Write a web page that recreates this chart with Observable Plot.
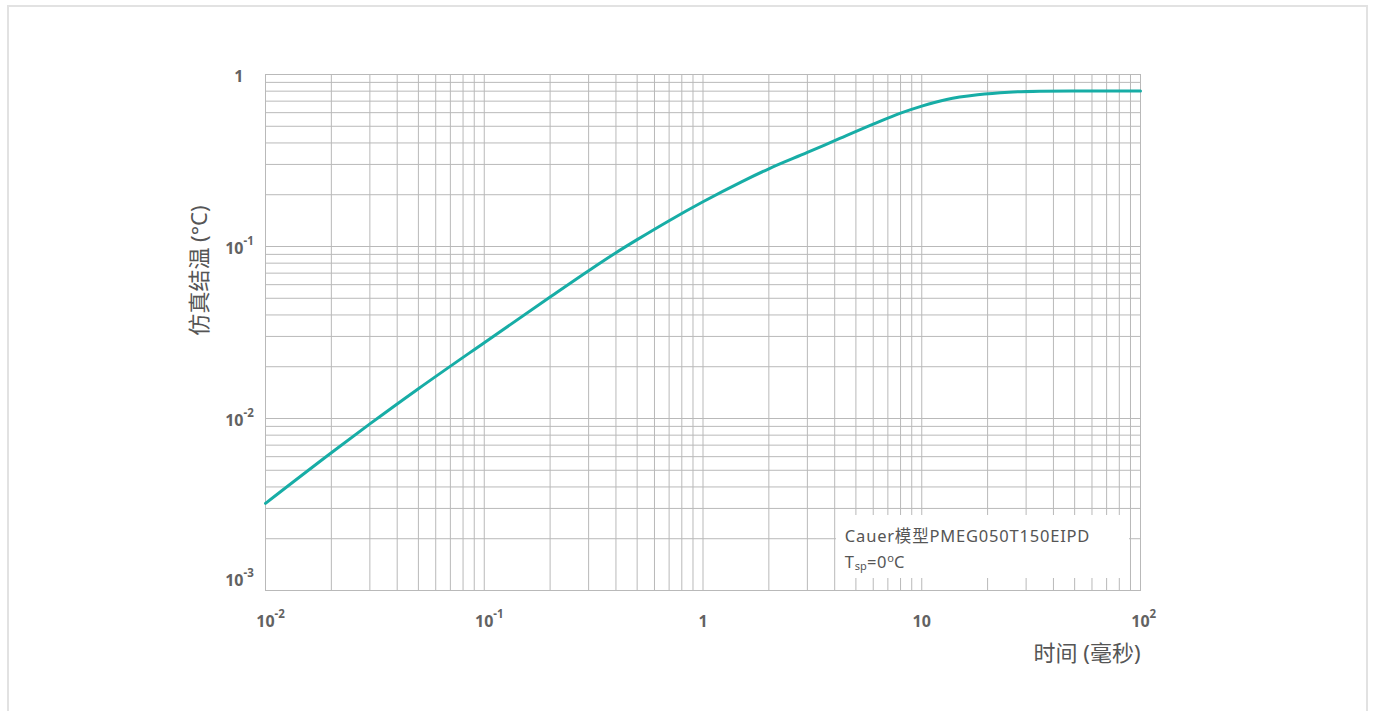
<!DOCTYPE html>
<html>
<head>
<meta charset="utf-8">
<script src="https://cdn.jsdelivr.net/npm/d3@7"></script>
<script src="https://cdn.jsdelivr.net/npm/@observablehq/plot@0.6"></script>
<style>
  html, body { margin: 0; padding: 0; background: #fff; overflow: hidden; }
  #wrap { position: relative; width: 1377px; height: 711px; }
  #border { position: absolute; left: 7px; top: 5px; width: 1361px; height: 760px; border: 2px solid #e2e2e2; box-sizing: border-box; }
  #chart { position: absolute; left: 0; top: 0; }
  #note { position: absolute; background: #fff; font-family: "Noto Sans", "Noto Sans CJK SC", sans-serif; font-size: 16.5px; letter-spacing: 0.8px; color: #555; line-height: 26px; box-sizing: border-box; padding: 8px 0 0 9px; white-space: nowrap; }
  #note sub { font-size: 11px; vertical-align: -2px; line-height: 0; letter-spacing: 0; }
  #note sup { font-size: 11px; vertical-align: 6px; line-height: 0; letter-spacing: 0; }
</style>
</head>
<body>
<div id="wrap">
  <div id="border"></div>
  <div id="chart"></div>
  <div id="note">Cauer模型PMEG050T150EIPD<br>T<sub>sp</sub>=0<sup>o</sup>C</div>
</div>
<script>
// Curve: time (ms) vs simulated junction temperature (°C)
const timeMs = [0.01, 0.02, 0.03, 0.05, 0.1, 0.2, 0.3, 0.4, 0.5, 0.7, 1, 1.5, 2, 3, 4, 6, 8, 10, 13, 18, 25, 35, 50, 100];
const tempC  = [0.00321, 0.00632, 0.0093, 0.0149, 0.0276, 0.0508, 0.0723, 0.092, 0.1096, 0.1413, 0.182, 0.2377, 0.283, 0.352, 0.412, 0.514, 0.596, 0.655, 0.716, 0.762, 0.789, 0.799, 0.802, 0.802];

const xTickValues = [0.01, 0.1, 1, 10, 100];
const xTickBase = ["10", "10", "1", "10", "10"];
const xTickExp  = ["-2", "-1", "", "", "2"];
const yTickValues = [1, 0.1, 0.01, 0.001];
const yTickBase = ["1", "10", "10", "10"];
const yTickExp  = ["", "-1", "-2", "-3"];

const xTitle = "时间 (毫秒)";
const yTitle = "仿真结温 (°C)";

// Annotation box corners in data coordinates
const noteX = [4.07, 89];
const noteY = [0.00273, 0.00118];

(function () {
const curve = timeMs.map((t, i) => ({t, v: tempC[i]}));
const xTicks = xTickValues.map((v, i) => ({v, base: xTickBase[i], exp: xTickExp[i]}));
const yTicks = yTickValues.map((v, i) => ({v, base: yTickBase[i], exp: yTickExp[i], low: v === 0.001}));

const xGrid = d3.scaleLog().domain([0.01, 100]).ticks();
const yGrid = d3.scaleLog().domain([0.001, 1]).ticks();

const gridColor = "#b9b9b9";
const tickFont = "'Noto Sans', 'DejaVu Sans', sans-serif";
const tickFill = "#626262";
const base = {fontSize: 16, fontWeight: "bold", fill: tickFill, fontFamily: tickFont};
const sup = {fontSize: 11.5, fontWeight: "bold", fill: tickFill, fontFamily: tickFont};

const chart = Plot.plot({
  width: 1377,
  height: 711,
  marginLeft: 265,
  marginRight: 237,
  marginTop: 74,
  marginBottom: 121,
  style: {fontFamily: "'Noto Sans', 'Noto Sans CJK SC', sans-serif", background: "transparent"},
  x: {type: "log", domain: [0.01, 100], axis: null},
  y: {type: "log", domain: [0.001, 1], axis: null},
  marks: [
    Plot.ruleX(xGrid, {stroke: gridColor, strokeWidth: 1}),
    Plot.ruleY(yGrid, {stroke: gridColor, strokeWidth: 1}),
    Plot.frame({stroke: gridColor}),
    // x tick labels
    Plot.text(xTicks, {x: "v", text: "base", frameAnchor: "bottom", lineAnchor: "middle", dy: 31, textAnchor: "middle", ...base}),
    Plot.text(xTicks.filter(d => d.exp), {x: "v", text: "exp", frameAnchor: "bottom", lineAnchor: "middle", dy: 24, dx: 9, textAnchor: "start", ...sup}),
    // y tick labels
    Plot.text(yTicks.filter(d => !d.low), {y: "v", text: "base", frameAnchor: "left", dx: -22, dy: 2, textAnchor: "end", ...base}),
    Plot.text(yTicks.filter(d => !d.low && d.exp), {y: "v", text: "exp", frameAnchor: "left", dx: -22, dy: -5, textAnchor: "start", ...sup}),
    Plot.text(yTicks.filter(d => d.low), {y: "v", text: "base", frameAnchor: "left", dx: -22, dy: -10, textAnchor: "end", ...base}),
    Plot.text(yTicks.filter(d => d.low), {y: "v", text: "exp", frameAnchor: "left", dx: -22, dy: -17, textAnchor: "start", ...sup}),
    // curve
    Plot.line(curve, {x: "t", y: "v", stroke: "#17ada6", strokeWidth: 3, curve: "monotone-x"}),
    // titles
    Plot.text([xTitle], {frameAnchor: "bottom-right", lineAnchor: "middle", dy: 63, dx: 0, textAnchor: "end", fontSize: 22, fill: "#555", text: d => d}),
    Plot.text([yTitle], {frameAnchor: "top-left", lineAnchor: "middle", dx: -66, dy: 196, rotate: -90, textAnchor: "middle", fontSize: 22, fill: "#555", text: d => d})
  ]
});
document.getElementById("chart").appendChild(chart);

const sx = chart.scale("x"), sy = chart.scale("y");
const note = document.getElementById("note");
const bx0 = sx.apply(noteX[0]), bx1 = sx.apply(noteX[1]);
const by0 = sy.apply(noteY[0]), by1 = sy.apply(noteY[1]);
note.style.left = bx0 + "px";
note.style.top = by0 + "px";
note.style.width = (bx1 - bx0) + "px";
note.style.height = (by1 - by0) + "px";
})();
</script>
</body>
</html>
